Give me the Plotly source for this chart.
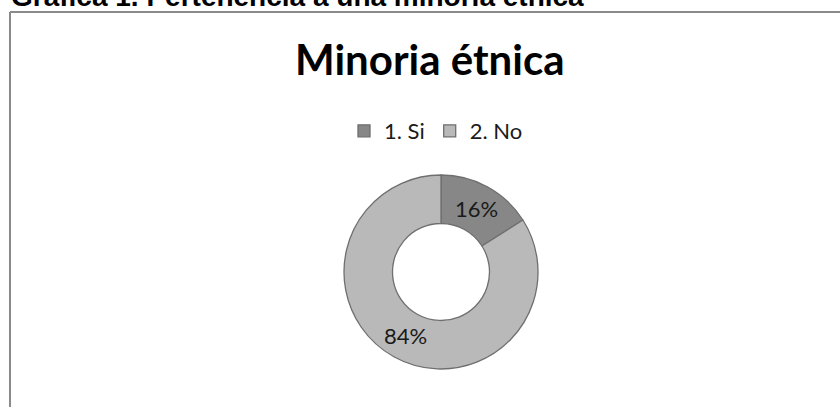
import math
import plotly.graph_objects as go

# Data
categories = ["1. Si", "2. No"]
values = [16, 84]
colors = ["#878787", "#b9b9b9"]
chart_title = "Minoria étnica"
caption = "Gráfica 1. Pertenencia a una minoría étnica"

W, H = 840, 407

def px_x(x):
    return x / W

def px_y(y):
    return 1 - y / H

# Donut geometry (pixels)
cx, cy, r_out = 441, 272, 97
hole = 0.5

fig = go.Figure()
fig.add_trace(go.Pie(
    labels=categories,
    values=values,
    sort=False,
    direction="clockwise",
    rotation=0,
    hole=hole,
    marker=dict(colors=colors, line=dict(color="#6f6f6f", width=1.3)),
    textinfo="none",
    hoverinfo="label+percent",
    domain=dict(x=[px_x(cx - r_out), px_x(cx + r_out)],
                y=[px_y(cy + r_out), px_y(cy - r_out)]),
    showlegend=True,
))

# Percentage labels placed at the middle of each slice's ring, from the data
annotations = []
total = sum(values)
cum = 0.0
r_mid = r_out * (1 + hole) / 2
for v in values:
    mid = (cum + v / 2) / total * 2 * math.pi
    cum += v
    lx = cx + r_mid * math.sin(mid)
    ly = cy - r_mid * math.cos(mid)
    annotations.append(dict(
        text=f"{round(v / total * 100)}%", xref="paper", yref="paper",
        x=px_x(lx), y=px_y(ly), xanchor="center", yanchor="middle",
        showarrow=False,
        font=dict(family="Lato", size=22, color="#1a1a1a")))

annotations += [
    dict(text=caption, xref="paper", yref="paper",
         x=px_x(9), xanchor="left", y=px_y(-3), yanchor="middle",
         showarrow=False,
         font=dict(family="Liberation Sans", size=28, color="#000000", weight="bold")),
    dict(text=chart_title, xref="paper", yref="paper",
         x=px_x(430.5), xanchor="center", y=px_y(59.5), yanchor="middle",
         showarrow=False,
         font=dict(family="Lato", size=42, color="#000000", weight="bold")),
]

fig.update_layout(
    width=W, height=H,
    margin=dict(l=0, r=0, t=0, b=0),
    paper_bgcolor="white",
    plot_bgcolor="white",
    showlegend=True,
    legend=dict(
        orientation="h",
        x=px_x(436), xanchor="center",
        y=px_y(131), yanchor="middle",
        font=dict(family="Lato", size=22, color="#1a1a1a"),
        itemwidth=30,
        bgcolor="rgba(0,0,0,0)",
    ),
    shapes=[
        dict(type="line", xref="paper", yref="paper",
             x0=px_x(10), x1=px_x(10), y0=px_y(12), y1=px_y(420),
             line=dict(color="#8a8a8a", width=2)),
        dict(type="line", xref="paper", yref="paper",
             x0=px_x(10), x1=px_x(860), y0=px_y(12), y1=px_y(12),
             line=dict(color="#8a8a8a", width=2)),
    ],
    annotations=annotations,
)

fig.write_html("out.html", config={"displayModeBar": False},
               post_script="document.body.style.margin='0';")
